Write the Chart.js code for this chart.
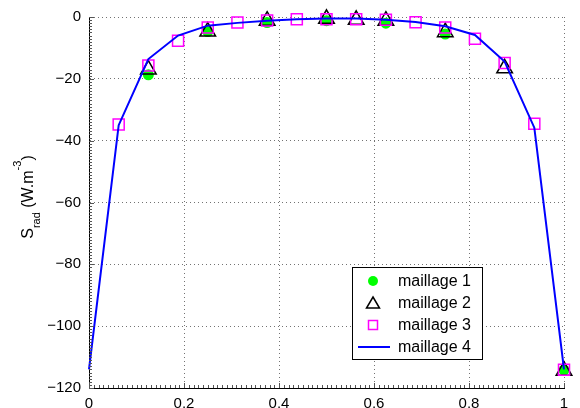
<!DOCTYPE html>
<html>
<head>
<meta charset="utf-8">
<script src="https://cdn.jsdelivr.net/npm/chart.js@4.4.0/dist/chart.umd.min.js"></script>
<style>
  body { margin: 0; background: #fff; }
  canvas { display: block; }
</style>
</head>
<body>
<canvas id="radChart" width="580" height="408"></canvas>
<script>
// maillage 1 (green dots)
const x1 = [0.125, 0.25, 0.375, 0.5, 0.625, 0.75, 1];
const y1 = [-18.7, -4.7, -1.8, -1.2, -2.0, -5.5, -114.2];

// maillage 2 (triangles)
const x2 = [0.125, 0.25, 0.375, 0.5, 0.5625, 0.625, 0.75, 0.875, 1];
const y2 = [-17.0, -4.7, -1.2, -0.6, -0.9, -1.2, -4.9, -16.6, -114.4];

// maillage 3 (squares)
const x3 = [0.0625, 0.125, 0.1875, 0.25, 0.3125, 0.375, 0.4375, 0.5, 0.5625, 0.625, 0.6875, 0.75, 0.8125, 0.875, 0.9375, 1];
const y3 = [-34.8, -15.7, -7.7, -3.4, -1.8, -1.1, -0.7, -0.7, -0.7, -0.9, -1.7, -3.4, -7.0, -14.9, -34.5, -114.1];

// maillage 4 (line)
const x4 = [0, 0.0625, 0.125, 0.1875, 0.25, 0.3125, 0.375, 0.4375, 0.5, 0.5625, 0.625, 0.6875, 0.75, 0.8125, 0.875, 0.9375, 1];
const y4 = [-114, -35.0, -13.6, -6.0, -2.8, -1.9, -1.2, -0.7, -0.5, -0.5, -0.9, -1.6, -3.0, -5.8, -14.4, -35.8, -114];

const xTicks = [0, 0.2, 0.4, 0.6, 0.8, 1];
const yTicks = [-120, -100, -80, -60, -40, -20, 0];

const pts = (xs, ys) => xs.map((x, i) => ({ x: x, y: ys[i] }));
const FONT = 'Liberation Sans';

// inward major/minor ticks like MATLAB
const tickPlugin = {
  id: 'ticks',
  afterDatasetsDraw(chart) {
    const { ctx, chartArea: a, scales: { x, y } } = chart;
    ctx.save();
    ctx.strokeStyle = '#555';
    ctx.lineWidth = 1;
    ctx.beginPath();
    for (let v = -120; v <= 0; v += 1) {
      const py = Math.round(y.getPixelForValue(v)) + 0.5;
      const len = v % 20 === 0 ? 5 : 3;
      ctx.moveTo(a.left, py);
      ctx.lineTo(a.left + len, py);
    }
    for (let k = 0; k <= 100; k++) {
      const px = Math.round(x.getPixelForValue(k / 100)) + 0.5;
      const len = k % 20 === 0 ? 5 : 3;
      ctx.moveTo(px, a.bottom);
      ctx.lineTo(px, a.bottom - len);
    }
    ctx.stroke();
    ctx.restore();
  }
};

// y label with subscript / superscript
const labelPlugin = {
  id: 'ylabel',
  afterDraw(chart) {
    const ctx = chart.ctx;
    const parts = [
      { t: 'S', size: 16, dy: 0 },
      { t: 'rad', size: 11, dy: 7 },
      { t: ' (W.m', size: 16, dy: 0 },
      { t: '-3', size: 11, dy: -12 },
      { t: ')', size: 16, dy: 0 }
    ];
    ctx.save();
    ctx.translate(33, 197);
    ctx.rotate(-Math.PI / 2);
    ctx.fillStyle = '#000';
    ctx.textBaseline = 'alphabetic';
    let total = 0;
    parts.forEach(p => { ctx.font = p.size + 'px "' + FONT + '"'; p.w = ctx.measureText(p.t).width; total += p.w; });
    let cx = -total / 2;
    parts.forEach(p => {
      ctx.font = p.size + 'px "' + FONT + '"';
      ctx.fillText(p.t, cx, p.dy);
      cx += p.w;
    });
    ctx.restore();
  }
};

// legend box inside the plot
const legendPlugin = {
  id: 'boxLegend',
  afterDraw(chart) {
    const ctx = chart.ctx;
    const bx = 352.5, by = 267.5, bw = 130, bh = 92;
    ctx.save();
    ctx.fillStyle = '#fff';
    ctx.fillRect(bx, by, bw, bh);
    ctx.strokeStyle = '#000';
    ctx.lineWidth = 1;
    ctx.strokeRect(bx, by, bw, bh);
    const mx = 373, tx = 398;
    const rows = [281, 303, 325, 347];
    // circle
    ctx.fillStyle = '#00ff00';
    ctx.beginPath();
    ctx.arc(mx, rows[0], 5, 0, Math.PI * 2);
    ctx.fill();
    // triangle
    ctx.strokeStyle = '#000';
    ctx.lineWidth = 1.5;
    ctx.beginPath();
    ctx.moveTo(mx, rows[1] - 6);
    ctx.lineTo(mx + 6.5, rows[1] + 5);
    ctx.lineTo(mx - 6.5, rows[1] + 5);
    ctx.closePath();
    ctx.stroke();
    // square
    ctx.strokeStyle = '#ff00ff';
    ctx.strokeRect(mx - 4.5, rows[2] - 4.5, 9, 9);
    // line
    ctx.strokeStyle = '#0000ff';
    ctx.lineWidth = 2;
    ctx.beginPath();
    ctx.moveTo(358, rows[3]);
    ctx.lineTo(390, rows[3]);
    ctx.stroke();
    ctx.fillStyle = '#000';
    ctx.font = '16px "' + FONT + '"';
    ctx.textBaseline = 'middle';
    chart.data.datasets.forEach((d, i) => ctx.fillText(d.label, tx, rows[i] + 1));
    ctx.restore();
  }
};

const dotted = {
  display: true,
  color: 'rgba(0,0,0,0.55)',
  lineWidth: 1,
  drawTicks: false
};

new Chart(document.getElementById('radChart').getContext('2d'), {
  type: 'scatter',
  data: {
    datasets: [
      {
        label: 'maillage 1',
        data: pts(x1, y1),
        pointStyle: 'circle',
        pointRadius: 5.5,
        backgroundColor: '#00ff00',
        borderColor: '#00ff00',
        borderWidth: 0,
        clip: false,
        order: 3
      },
      {
        label: 'maillage 2',
        data: pts(x2, y2),
        pointStyle: 'triangle',
        pointRadius: 9,
        backgroundColor: 'rgba(0,0,0,0)',
        borderColor: '#000',
        borderWidth: 1.5,
        clip: false,
        order: 2
      },
      {
        label: 'maillage 3',
        data: pts(x3, y3),
        pointStyle: 'rect',
        pointRadius: 7.8,
        backgroundColor: 'rgba(0,0,0,0)',
        borderColor: '#ff00ff',
        borderWidth: 1.5,
        clip: false,
        order: 1
      },
      {
        label: 'maillage 4',
        data: pts(x4, y4),
        showLine: true,
        pointRadius: 0,
        borderColor: '#0000ff',
        borderWidth: 2,
        tension: 0,
        clip: false,
        order: 0
      }
    ]
  },
  options: {
    responsive: false,
    animation: false,
    devicePixelRatio: 1,
    events: [],
    layout: { padding: { left: 0, top: 14, right: 16, bottom: 0 } },
    plugins: {
      legend: { display: false },
      tooltip: { enabled: false }
    },
    scales: {
      x: {
        type: 'linear',
        min: 0,
        max: 1,
        afterFit: s => { s.height = 20; },
        afterBuildTicks: s => { s.ticks = xTicks.map(v => ({ value: v })); },
        grid: dotted,
        border: { display: true, color: '#000', width: 1, dash: [1, 3] },
        ticks: {
          padding: 7,
          color: '#000',
          font: { family: FONT, size: 15 },
          maxRotation: 0,
          callback: v => String(Number(v.toFixed(1)))
        }
      },
      y: {
        min: -120,
        max: 0,
        afterFit: s => { s.width = 89; },
        afterBuildTicks: s => { s.ticks = yTicks.map(v => ({ value: v })); },
        grid: dotted,
        border: { display: true, color: '#000', width: 1, dash: [1, 3] },
        ticks: {
          padding: 8,
          color: '#000',
          font: { family: FONT, size: 15 },
          callback: v => (v < 0 ? '\u2212' + Math.abs(v) : String(v))
        }
      }
    }
  },
  plugins: [tickPlugin, labelPlugin, legendPlugin]
});
</script>
</body>
</html>
